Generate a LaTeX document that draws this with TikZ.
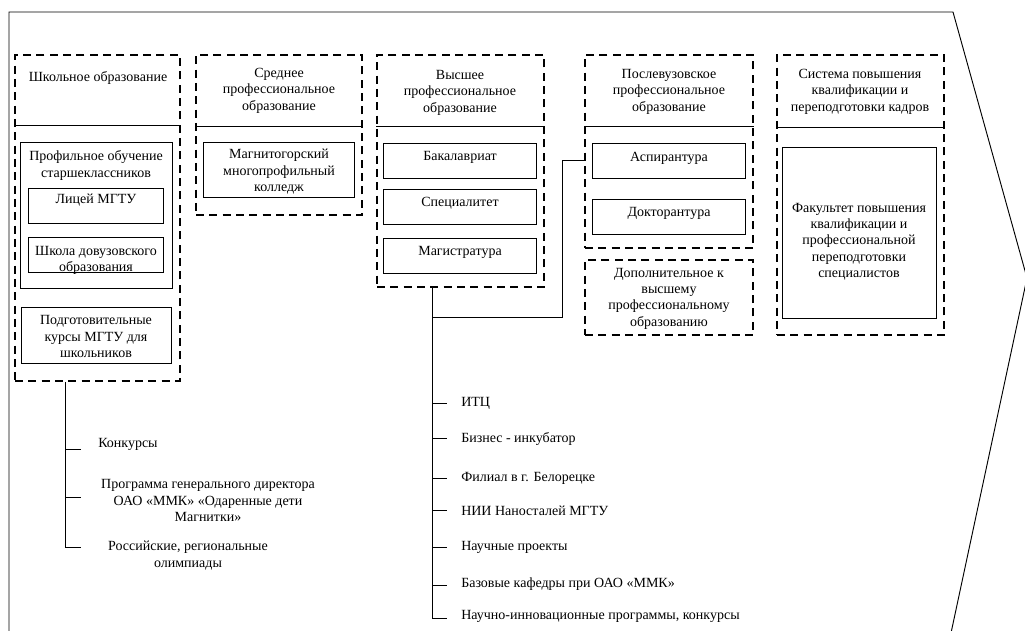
\documentclass[tikz,border=0pt]{standalone}
\usepackage{fontspec}
\setmainfont{Liberation Serif}
\usetikzlibrary{fit,calc}
\begin{document}
\begin{tikzpicture}[x=0.75pt,y=-0.75pt,
  dbox/.style={draw, line width=1.5pt, dash pattern=on 6pt off 4pt, inner sep=0pt},
  sbox/.style={draw, line width=0.6pt, inner sep=0pt},
  txt/.style={align=center, inner sep=0pt, font=\fontsize{10.5}{12.3}\selectfont},
  btxt/.style={txt, yshift=-2pt},
  ln/.style={line width=0.7pt},
  divider/.style={line width=0.7pt},
]
\useasboundingbox (0,0) rectangle (1025,631);
% outer arrow-like frame
\draw[ln] (9,631) -- (9,12) -- (953,12) -- (1027,278) -- (951,633);

% ---------- column 1
\node[dbox, fit={(15,55) (180,381)}] (c1) {};
\draw[divider] ([shift={(0,71)}]c1.north west) -- ([shift={(0,71)}]c1.north east);
\node[btxt] (h1) at (98,75) {Школьное образование};
\node[sbox, fit={(20,142) (172,288)}] (p1) {};
\node[btxt] (p1t) at (96,163) {Профильное обучение\\старшеклассников};
\node[sbox, fit={(28,188) (163,223)}] (ly) {};
\node[btxt] (lyt) at (96,197) {Лицей МГТУ};
\node[sbox, fit={(28,237) (163,272)}] (sh) {};
\node[btxt] (sht) at (96,258) {Школа довузовского\\образования};
\node[sbox, fit={(21,307) (171,363)}] (pk) {};
\node[btxt] (pkt) at (96,334) {Подготовительные\\курсы МГТУ для\\школьников};

% ---------- column 2
\node[dbox, fit={(196,55) (362,215)}] (c2) {};
\draw[divider] ([shift={(0,72)}]c2.north west) -- ([shift={(0,72)}]c2.north east);
\node[btxt] (h2) at (279,88) {Среднее\\профессиональное\\образование};
\node[sbox, fit={(203,142) (354,197)}] (mk) {};
\node[btxt] (mkt) at (279,169) {Магнитогорский\\многопрофильный\\колледж};

% ---------- column 3
\node[dbox, fit={(377,55) (544,287)}] (c3) {};
\draw[divider] ([shift={(0,72)}]c3.north west) -- ([shift={(0,72)}]c3.north east);
\node[btxt] (h3) at (460,90) {Высшее\\профессиональное\\образование};
\node[sbox, fit={(383,143) (536,178)}] (bk) {};
\node[btxt] (bkt) at (460,155) {Бакалавриат};
\node[sbox, fit={(383,189) (536,224)}] (sp) {};
\node[btxt] (spt) at (460,201) {Специалитет};
\node[sbox, fit={(383,238) (536,273)}] (mg) {};
\node[btxt] (mgt) at (460,250) {Магистратура};

% ---------- column 4
\node[dbox, fit={(585,55) (753,248)}] (c4) {};
\draw[divider] ([shift={(0,72)}]c4.north west) -- ([shift={(0,72)}]c4.north east);
\node[btxt] (h4) at (669,89) {Послевузовское\\профессиональное\\образование};
\node[sbox, fit={(592,143) (745,178)}] (as) {};
\node[btxt] (ast) at (669,156) {Аспирантура};
\node[sbox, fit={(592,199) (745,234)}] (dk) {};
\node[btxt] (dkt) at (669,211) {Докторантура};
\node[dbox, fit={(585,260) (753,335)}] (dp) {};
\node[btxt] (dpt) at (669,296) {Дополнительное к\\высшему\\профессиональному\\образованию};

% ---------- column 5
\node[dbox, fit={(777,55) (944,335)}] (c5) {};
\draw[divider] ([shift={(0,73)}]c5.north west) -- ([shift={(0,73)}]c5.north east);
\node[btxt] (h5) at (860,89) {Система повышения\\квалификации и\\переподготовки кадров};
\node[sbox, fit={(782,147) (936,318)}] (fk) {};
\node[btxt] (fkt) at (859,239) {Факультет повышения\\квалификации и\\профессиональной\\переподготовки\\специалистов};

% ---------- list under column 1
\coordinate (v1) at (65,547);
\draw[ln] (v1 |- c1.south) -- (v1) -- ++(16,0);
\coordinate (t11) at (65,449);
\coordinate (t12) at (65,497);
\draw[ln] (t11) -- ++(16,0);
\draw[ln] (t12) -- ++(16,0);
\node[txt, anchor=west] (k1) at (98,444) {Конкурсы};
\node[btxt] (k2) at (208,498) {Программа генерального директора\\ОАО «ММК» «Одаренные дети\\Магнитки»};
\node[btxt] (k3) at (188,553) {Российские, региональные\\олимпиады};

% ---------- list under column 3
\coordinate (v3) at (432,618);
\draw[ln] (v3 |- c3.south) -- (v3) -- ++(15,0);
\foreach \y in {403,438,478,510,547,585} \draw[ln] (432,\y) -- ++(15,0);
\node[txt, anchor=west] (i1) at (461,403) {ИТЦ};
\node[txt, anchor=west] (i2) at (461,439) {Бизнес - инкубатор};
\node[txt, anchor=west] (i3) at (461,478) {Филиал в г. Белорецке};
\node[txt, anchor=west] (i4) at (461,511) {НИИ Наносталей МГТУ};
\node[txt, anchor=west] (i5) at (461,547) {Научные проекты};
\node[txt, anchor=west] (i6) at (461,584) {Базовые кафедры при ОАО «ММК»};
\node[txt, anchor=west] (i7) at (461,616) {Научно-инновационные программы, конкурсы};

% ---------- link column 3 -> column 4
\coordinate (j3) at (432,317);
\coordinate (j4) at (562,317);
\draw[ln] (j3) -- (j4) -- (j4 |- 0,160) -- (c4.west |- 0,160);
\end{tikzpicture}
\end{document}
